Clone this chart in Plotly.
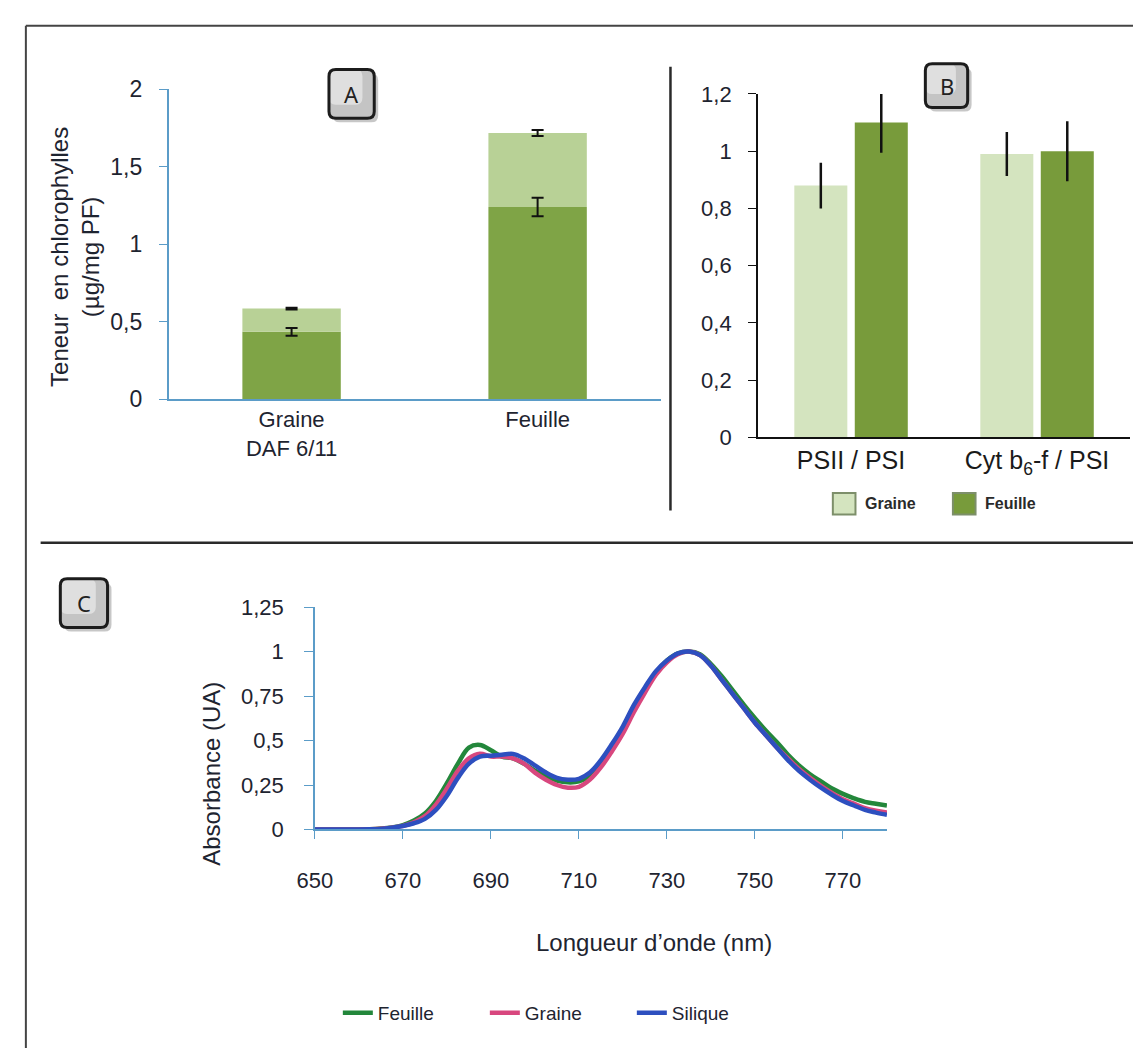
import plotly.graph_objects as go

W, H = 1133, 1061

# ---------------- Panel A data ----------------
a_categories = ["Graine<br>DAF 6/11", "Feuille"]
a_dark = [0.435, 1.24]          # lower (dark) part
a_light = [0.15, 0.477]         # upper (light) part
a_dark_err = [0.025, 0.06]
a_total_err = [0.006, 0.02]
a_yticks = [0, 0.5, 1, 1.5, 2]

# ---------------- Panel B data ----------------
b_categories = ["PSII / PSI", "Cyt b<sub>6</sub>-f / PSI"]
b_graine = [0.88, 0.99]
b_feuille = [1.10, 1.00]
b_graine_err = [0.08, 0.077]
b_feuille_err = [0.105, 0.105]
b_yticks = [0, 0.2, 0.4, 0.6, 0.8, 1, 1.2]

# ---------------- Panel C data ----------------
wl = [650, 652.5, 655, 657.5, 660, 662.5, 665, 667.5, 670, 672.5, 675, 677.5,
      680, 682.5, 685, 687.5, 690, 692.5, 695, 697.5, 700, 702.5, 705, 707.5,
      710, 712.5, 715, 717.5, 720, 722.5, 725, 727.5, 730, 732.5, 735, 737.5,
      740, 742.5, 745, 747.5, 750, 752.5, 755, 757.5, 760, 762.5, 765, 767.5,
      770, 772.5, 775, 777.5, 780]
feuille = [0, 0, 0, 0, 0, 0.001, 0.005, 0.012, 0.025, 0.05, 0.09, 0.16,
           0.26, 0.37, 0.46, 0.475, 0.445, 0.41, 0.40, 0.37, 0.33, 0.30, 0.275, 0.265,
           0.27, 0.30, 0.37, 0.46, 0.56, 0.68, 0.79, 0.88, 0.95, 0.99, 1.0, 0.985,
           0.93, 0.86, 0.78, 0.70, 0.625, 0.555, 0.49, 0.42, 0.36, 0.31, 0.27, 0.23,
           0.20, 0.175, 0.155, 0.145, 0.135]
graine = [0, 0, 0, 0, 0, 0.001, 0.004, 0.01, 0.02, 0.04, 0.075, 0.14,
          0.23, 0.33, 0.40, 0.425, 0.41, 0.41, 0.40, 0.37, 0.32, 0.28, 0.25, 0.235,
          0.24, 0.28, 0.35, 0.44, 0.54, 0.66, 0.77, 0.87, 0.94, 0.985, 1.0, 0.98,
          0.92, 0.84, 0.76, 0.68, 0.60, 0.53, 0.46, 0.40, 0.34, 0.29, 0.245, 0.205,
          0.17, 0.145, 0.12, 0.105, 0.095]
silique = [0, 0, 0, 0, 0, 0.001, 0.003, 0.01, 0.02, 0.035, 0.06, 0.11,
           0.19, 0.29, 0.37, 0.41, 0.415, 0.42, 0.425, 0.40, 0.36, 0.32, 0.29, 0.28,
           0.285, 0.32, 0.39, 0.48, 0.58, 0.70, 0.80, 0.89, 0.95, 0.99, 1.0, 0.98,
           0.92, 0.84, 0.76, 0.68, 0.60, 0.53, 0.46, 0.39, 0.33, 0.28, 0.235, 0.195,
           0.16, 0.135, 0.11, 0.095, 0.082]
c_xticks = [650, 670, 690, 710, 730, 750, 770]
c_yticks = [0, 0.25, 0.5, 0.75, 1, 1.25]

# ---------------- helpers ----------------
def fx(px):
    return px / W

def fy(py):
    return 1 - py / H

FONT = "Liberation Sans, Arial, sans-serif"
TXT = "#1e2430"
AXBLUE = "#5b9cc8"
A_DARK = "#7fa446"
A_LIGHT = "#b8d196"
B_GRAINE = "#d4e4bf"
B_FEUILLE = "#789b3b"

fig = go.Figure()

# Panel A bars (stacked via base)
fig.add_trace(go.Bar(x=a_categories, y=a_dark, width=0.4, offset=-0.2,
                     marker=dict(color=A_DARK, line=dict(width=0)),
                     xaxis="x", yaxis="y", showlegend=False, name="Chl dark"))
fig.add_trace(go.Bar(x=a_categories, y=a_light, base=a_dark, width=0.4, offset=-0.2,
                     marker=dict(color=A_LIGHT, line=dict(width=0)),
                     xaxis="x", yaxis="y", showlegend=False, name="Chl light"))
a_total = [d + l for d, l in zip(a_dark, a_light)]
fig.add_trace(go.Scatter(x=a_categories, y=a_dark, mode="markers",
                         marker=dict(size=1, opacity=0),
                         error_y=dict(type="data", array=a_dark_err, color="#111",
                                      thickness=2, width=6),
                         xaxis="x", yaxis="y", showlegend=False, hoverinfo="skip"))
fig.add_trace(go.Scatter(x=a_categories, y=a_total, mode="markers",
                         marker=dict(size=1, opacity=0),
                         error_y=dict(type="data", array=a_total_err, color="#111",
                                      thickness=2, width=6),
                         xaxis="x", yaxis="y", showlegend=False, hoverinfo="skip"))

# Panel B bars
fig.add_trace(go.Bar(x=b_categories, y=b_graine, width=0.285, offset=-0.305,
                     marker=dict(color=B_GRAINE, line=dict(width=0)),
                     error_y=dict(type="data", array=b_graine_err, color="#111",
                                  thickness=2.5, width=0),
                     xaxis="x2", yaxis="y2", showlegend=False, name="Graine"))
fig.add_trace(go.Bar(x=b_categories, y=b_feuille, width=0.285, offset=0.02,
                     marker=dict(color=B_FEUILLE, line=dict(width=0)),
                     error_y=dict(type="data", array=b_feuille_err, color="#111",
                                  thickness=2.5, width=0),
                     xaxis="x2", yaxis="y2", showlegend=False, name="Feuille"))

# Panel C curves
for name, ys, col in [("Feuille", feuille, "#23873b"),
                      ("Graine", graine, "#d8477e"),
                      ("Silique", silique, "#2d4fbf")]:
    fig.add_trace(go.Scatter(x=wl, y=ys, mode="lines", name=name,
                             line=dict(color=col, width=4.5, shape="spline"),
                             xaxis="x3", yaxis="y3"))

# ---------------- shapes ----------------
shapes = []
# outer frame (left + top)
shapes.append(dict(type="line", xref="paper", yref="paper", x0=fx(8), x1=fx(8),
                   y0=fy(13), y1=fy(1061), line=dict(color="#444", width=2)))
shapes.append(dict(type="line", xref="paper", yref="paper", x0=fx(8), x1=fx(1133),
                   y0=fy(13), y1=fy(13), line=dict(color="#444", width=2)))
# dividers
shapes.append(dict(type="line", xref="paper", yref="paper", x0=fx(23), x1=fx(1133),
                   y0=fy(543), y1=fy(543), line=dict(color="#2a2a2a", width=2.5)))
shapes.append(dict(type="line", xref="paper", yref="paper", x0=fx(663), x1=fx(663),
                   y0=fy(55), y1=fy(510), line=dict(color="#2a2a2a", width=2.5)))


def rounded(x0, y0, x1, y1, r):
    pts = [(x0 + r, y0), (x1 - r, y0), (x1, y0), (x1, y0 + r), (x1, y1 - r), (x1, y1),
           (x1 - r, y1), (x0 + r, y1), (x0, y1), (x0, y1 - r), (x0, y0 + r), (x0, y0),
           (x0 + r, y0)]
    p = [(fx(a), fy(b)) for a, b in pts]
    return ("M{0},{1} L{2},{3} Q{4},{5} {6},{7} L{8},{9} Q{10},{11} {12},{13} "
            "L{14},{15} Q{16},{17} {18},{19} L{20},{21} Q{22},{23} {24},{25} Z").format(
        *[v for xy in p for v in xy])


boxes = [("A", 316, 58, 362, 108), ("B", 922, 52, 965, 97), ("C", 43, 580, 91, 630)]
for letter, x0, y0, x1, y1 in boxes:
    # drop shadow
    shapes.append(dict(type="path", xref="paper", yref="paper",
                       path=rounded(x0 + 4, y0 + 4, x1 + 4, y1 + 4, 7),
                       fillcolor="rgba(0,0,0,0.22)", line=dict(width=0)))
    # box body (darker lower-right)
    shapes.append(dict(type="path", xref="paper", yref="paper",
                       path=rounded(x0, y0, x1, y1, 7),
                       fillcolor="#c4c4c4", line=dict(width=0)))
    # lighter upper-left sheen
    shapes.append(dict(type="path", xref="paper", yref="paper",
                       path=rounded(x0, y0, x1 - 12, y1 - 14, 7),
                       fillcolor="rgba(245,245,245,0.55)", line=dict(width=0)))
    # border
    shapes.append(dict(type="path", xref="paper", yref="paper",
                       path=rounded(x0, y0, x1, y1, 7),
                       fillcolor="rgba(0,0,0,0)", line=dict(color="#1c1c1c", width=3)))

# Panel B legend squares
for x0, col in [(828, B_GRAINE), (950, B_FEUILLE)]:
    shapes.append(dict(type="rect", xref="paper", yref="paper",
                       x0=fx(x0), x1=fx(x0 + 23), y0=fy(514), y1=fy(492),
                       fillcolor=col, line=dict(color="#7d8f6a", width=2)))

# ---------------- annotations ----------------
ann = []
for letter, x0, y0, x1, y1 in boxes:
    ann.append(dict(text=letter, xref="paper", yref="paper", x=fx((x0 + x1) / 2),
                    y=fy((y0 + y1) / 2), showarrow=False, xanchor="center", yanchor="middle",
                    font=dict(family="Noto Sans, Open Sans, sans-serif", size=22, color="#222")))
ann.append(dict(text="Teneur  en chlorophylles<br>(µg/mg PF)", xref="paper", yref="paper",
                x=fx(58), y=fy(250), textangle=-90, showarrow=False,
                xanchor="center", yanchor="middle",
                font=dict(family=FONT, size=24, color=TXT)))
ann.append(dict(text="Absorbance (UA)", xref="paper", yref="paper",
                x=fx(197), y=fy(780), textangle=-90, showarrow=False,
                xanchor="center", yanchor="middle",
                font=dict(family=FONT, size=24, color=TXT)))
ann.append(dict(text="Longueur d’onde (nm)", xref="paper", yref="paper",
                x=fx(646), y=fy(953), showarrow=False, xanchor="center", yanchor="middle",
                font=dict(family=FONT, size=24, color=TXT)))
for x0, t in [(859, "Graine"), (981, "Feuille")]:
    ann.append(dict(text="<b>" + t + "</b>", xref="paper", yref="paper",
                    x=fx(x0), y=fy(503), showarrow=False, xanchor="left", yanchor="middle",
                    font=dict(family=FONT, size=16, color="#2a2a2a")))

tickfont = dict(family=FONT, size=22, color=TXT)

fig.update_layout(
    width=W, height=H,
    margin=dict(l=0, r=0, t=0, b=0),
    paper_bgcolor="white", plot_bgcolor="rgba(0,0,0,0)",
    separators=", ",
    barmode="overlay",
    shapes=shapes,
    annotations=ann,
    showlegend=True,
    legend=dict(orientation="h", x=fx(325), y=fy(1025), xanchor="left", yanchor="middle",
                font=dict(family=FONT, size=19, color=TXT),
                entrywidth=102, entrywidthmode="pixels", bgcolor="rgba(0,0,0,0)",
                itemwidth=30),
    xaxis=dict(domain=[fx(153), fx(653)], anchor="y", type="category", range=[-0.5, 1.5],
               showline=True, linecolor=AXBLUE, linewidth=1.5, ticks="",
               tickfont=tickfont, showgrid=False, zeroline=False),
    yaxis=dict(domain=[fy(396), fy(78)], anchor="x", range=[0, 2],
               tickvals=a_yticks, ticks="outside", ticklen=8, tickcolor=AXBLUE,
               showline=True, linecolor=AXBLUE, linewidth=1.5,
               tickfont=dict(family=FONT, size=23, color=TXT),
               showgrid=False, zeroline=False, ticklabelstandoff=12),
    xaxis2=dict(domain=[fx(752), fx(1130)], anchor="y2", type="category", range=[-0.5, 1.5],
                showline=True, linecolor="#111", linewidth=2, ticks="",
                tickfont=dict(family=FONT, size=25, color="#1a1a1a"),
                showgrid=False, zeroline=False),
    yaxis2=dict(domain=[fy(435), fy(83)], anchor="x2", range=[0, 1.2],
                tickvals=b_yticks, ticks="outside", ticklen=8, tickcolor="#111",
                showline=True, linecolor="#111", linewidth=2,
                tickfont=tickfont, showgrid=False, zeroline=False, ticklabelstandoff=12),
    xaxis3=dict(domain=[fx(301.7), fx(883)], anchor="y3", range=[650, 780],
                tickvals=c_xticks, ticks="outside", ticklen=8, tickcolor=AXBLUE,
                showline=True, linecolor=AXBLUE, linewidth=1.5,
                tickfont=tickfont, showgrid=False, zeroline=False, ticklabelstandoff=22),
    yaxis3=dict(domain=[fy(837), fy(609)], anchor="x3", range=[0, 1.25],
                tickvals=c_yticks, ticks="outside", ticklen=9, tickcolor=AXBLUE,
                showline=True, linecolor=AXBLUE, linewidth=1.5,
                tickfont=tickfont, showgrid=False, zeroline=False, ticklabelstandoff=16),
)

fig.write_html("out.html", config={"displayModeBar": False},
               post_script="document.body.style.margin='0';")
